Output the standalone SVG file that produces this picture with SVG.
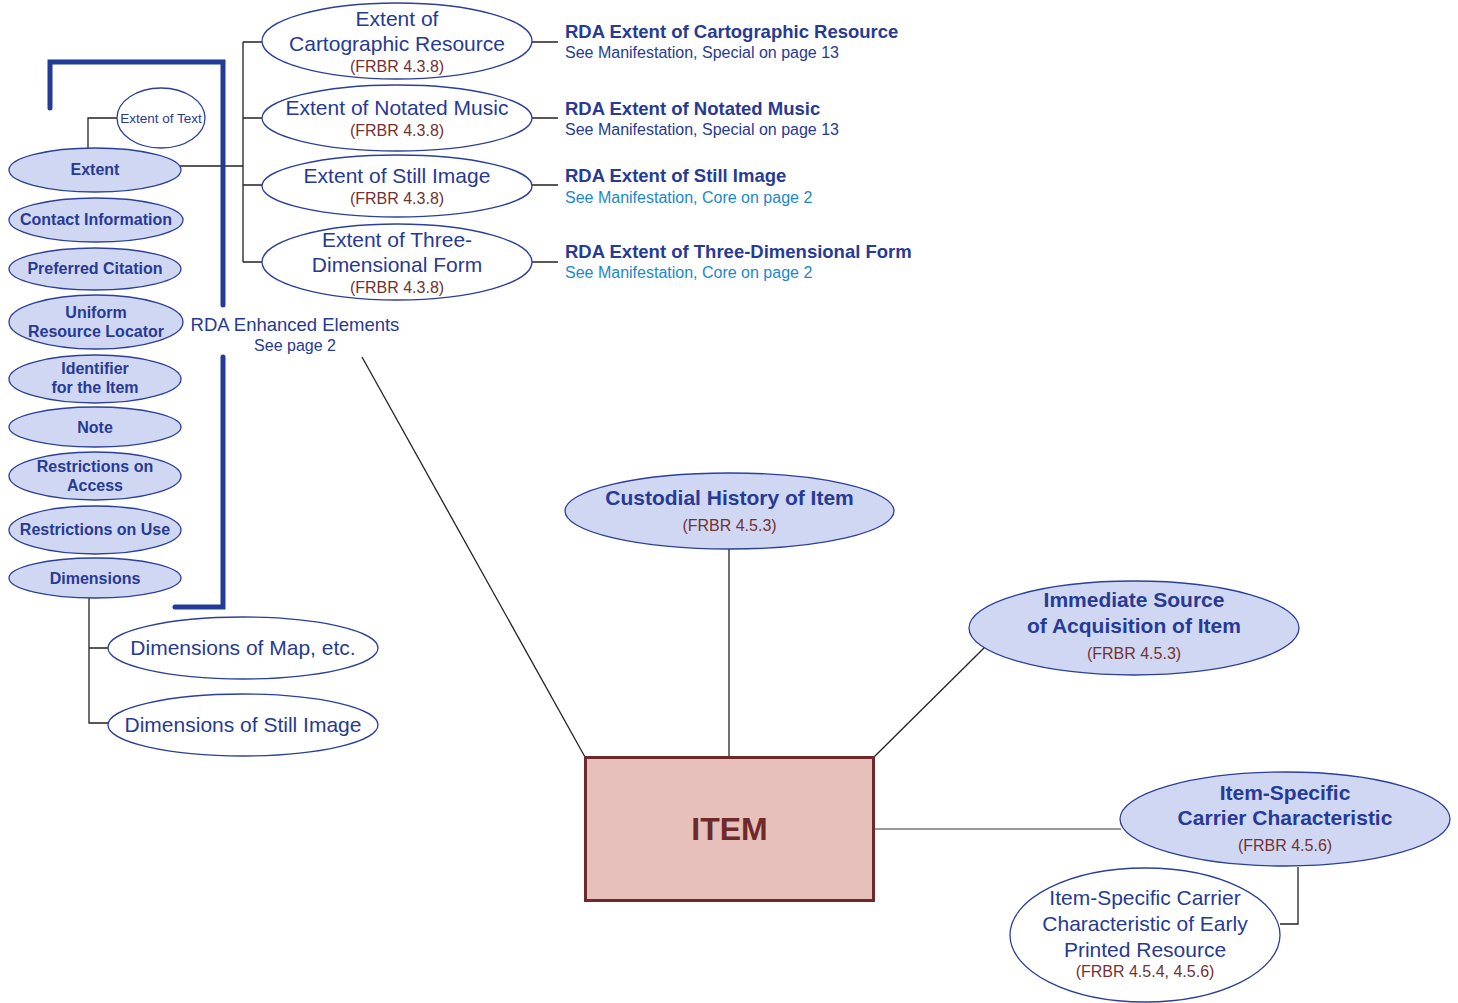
<svg xmlns="http://www.w3.org/2000/svg" width="1458" height="1003" viewBox="0 0 1458 1003">
<style>
text{font-family:"Liberation Sans",Arial,sans-serif;fill:#273a94;text-anchor:middle}
.b{font-weight:bold}
.l{font-size:16px;font-weight:bold}
.t{font-size:21px}
.f{font-size:16px;fill:#733232}
.s{font-size:16px;text-anchor:start}
.s2{font-size:16px;text-anchor:start;fill:#1b88cc}
.h{font-size:18.5px;font-weight:bold;text-anchor:start}
.fe{fill:#d0d7f3;stroke:#2c3f9b;stroke-width:1.3}
.we{fill:#fff;stroke:#2c3f9b;stroke-width:1.3}
.c{fill:none;stroke:#222;stroke-width:1.3}
.g{fill:none;stroke:#777;stroke-width:1.5}
</style>
<g id="connectors">
<path class="c" d="M88,148V118H117"/>
<path class="c" d="M180,166H243M243,42V262M243,42H262M243,118H262M243,185H262M243,262H262"/>
<path class="c" d="M532,42H558M532,118H558M532,185H558M532,262H558"/>
<path class="c" d="M89,598V723H108M89,648H108"/>
<path class="c" d="M362,357L585,757"/>
<path class="c" d="M729,549V757"/>
<path class="c" d="M874,757L985,647"/>
<path class="g" d="M874,829H1121"/>
<path class="c" d="M1298,867V924H1280"/>
</g>
<g id="bracket">
<path d="M50,108V62H223V305M223,357V607H175" fill="none" stroke="#233a96" stroke-width="5" stroke-linecap="round" stroke-linejoin="miter"/>
</g>
<g id="enhanced">
<text x="295" y="331" style="font-size:18.5px">RDA Enhanced Elements</text>
<text x="295" y="351" style="font-size:16px">See page 2</text>
</g>
<g id="extent-of-text"><ellipse class="we" cx="161" cy="118" rx="44" ry="30"/><text x="161" y="123" style="font-size:13.5px">Extent of Text</text></g>
<g id="extent"><ellipse class="fe" cx="95" cy="170" rx="86" ry="22"/><text class="l" x="95" y="175">Extent</text></g>
<g id="contact"><ellipse class="fe" cx="96" cy="220" rx="87" ry="22"/><text class="l" x="96" y="225">Contact Information</text></g>
<g id="citation"><ellipse class="fe" cx="95" cy="269" rx="86" ry="21"/><text class="l" x="95" y="274">Preferred Citation</text></g>
<g id="url"><ellipse class="fe" cx="96" cy="322" rx="87" ry="27"/><text class="l" x="96" y="318">Uniform</text><text class="l" x="96" y="337">Resource Locator</text></g>
<g id="identifier"><ellipse class="fe" cx="95" cy="379" rx="86" ry="24"/><text class="l" x="95" y="374">Identifier</text><text class="l" x="95" y="393">for the Item</text></g>
<g id="note"><ellipse class="fe" cx="95" cy="427" rx="86" ry="20"/><text class="l" x="95" y="433">Note</text></g>
<g id="access"><ellipse class="fe" cx="95" cy="476" rx="86" ry="24"/><text class="l" x="95" y="472">Restrictions on</text><text class="l" x="95" y="491">Access</text></g>
<g id="use"><ellipse class="fe" cx="95" cy="530" rx="86" ry="24"/><text class="l" x="95" y="535">Restrictions on Use</text></g>
<g id="dimensions"><ellipse class="fe" cx="95" cy="578" rx="86" ry="20"/><text class="l" x="95" y="584">Dimensions</text></g>
<g id="dim-map"><ellipse class="we" cx="243" cy="648" rx="135" ry="31"/><text class="t" x="243" y="655">Dimensions of Map, etc.</text></g>
<g id="dim-still"><ellipse class="we" cx="243" cy="725" rx="135" ry="31"/><text class="t" x="243" y="732">Dimensions of Still Image</text></g>
<g id="ext-carto"><ellipse class="we" cx="397" cy="41" rx="135" ry="38"/><text class="t" x="397" y="26">Extent of</text><text class="t" x="397" y="51">Cartographic Resource</text><text class="f" x="397" y="72">(FRBR 4.3.8)</text></g>
<g id="ext-music"><ellipse class="we" cx="397" cy="118" rx="135" ry="33"/><text class="t" x="397" y="115">Extent of Notated Music</text><text class="f" x="397" y="136">(FRBR 4.3.8)</text></g>
<g id="ext-still"><ellipse class="we" cx="397" cy="186" rx="135" ry="31"/><text class="t" x="397" y="183">Extent of Still Image</text><text class="f" x="397" y="204">(FRBR 4.3.8)</text></g>
<g id="ext-3d"><ellipse class="we" cx="397" cy="262" rx="135" ry="38"/><text class="t" x="397" y="247">Extent of Three-</text><text class="t" x="397" y="272">Dimensional Form</text><text class="f" x="397" y="293">(FRBR 4.3.8)</text></g>
<g id="rda-carto"><text class="h" x="565" y="38">RDA Extent of Cartographic Resource</text><text class="s" x="565" y="58">See Manifestation, Special on page 13</text></g>
<g id="rda-music"><text class="h" x="565" y="115">RDA Extent of Notated Music</text><text class="s" x="565" y="135">See Manifestation, Special on page 13</text></g>
<g id="rda-still"><text class="h" x="565" y="182">RDA Extent of Still Image</text><text class="s2" x="565" y="203">See Manifestation, Core on page 2</text></g>
<g id="rda-3d"><text class="h" x="565" y="258">RDA Extent of Three-Dimensional Form</text><text class="s2" x="565" y="278">See Manifestation, Core on page 2</text></g>
<g id="custodial"><ellipse class="fe" cx="729.5" cy="511" rx="164.5" ry="38"/><text class="t b" x="729.5" y="505">Custodial History of Item</text><text class="f" x="729.5" y="531">(FRBR 4.5.3)</text></g>
<g id="immediate"><ellipse class="fe" cx="1134" cy="628" rx="165" ry="47"/><text class="t b" x="1134" y="607">Immediate Source</text><text class="t b" x="1134" y="633">of Acquisition of Item</text><text class="f" x="1134" y="659">(FRBR 4.5.3)</text></g>
<g id="carrier"><ellipse class="fe" cx="1285" cy="819" rx="165" ry="47"/><text class="t b" x="1285" y="800">Item-Specific</text><text class="t b" x="1285" y="825">Carrier Characteristic</text><text class="f" x="1285" y="851">(FRBR 4.5.6)</text></g>
<g id="early"><ellipse class="we" cx="1145" cy="935" rx="135" ry="67"/><text class="t" x="1145" y="905">Item-Specific Carrier</text><text class="t" x="1145" y="931">Characteristic of Early</text><text class="t" x="1145" y="957">Printed Resource</text><text class="f" x="1145" y="977">(FRBR 4.5.4, 4.5.6)</text></g>
<g id="item"><rect x="585.5" y="757.5" width="288" height="143" fill="#e7c0bc" stroke="#6e2a2a" stroke-width="3"/><text x="729.5" y="840" style="font-size:32px;font-weight:bold;fill:#6e2a2a">ITEM</text></g>
</svg>
